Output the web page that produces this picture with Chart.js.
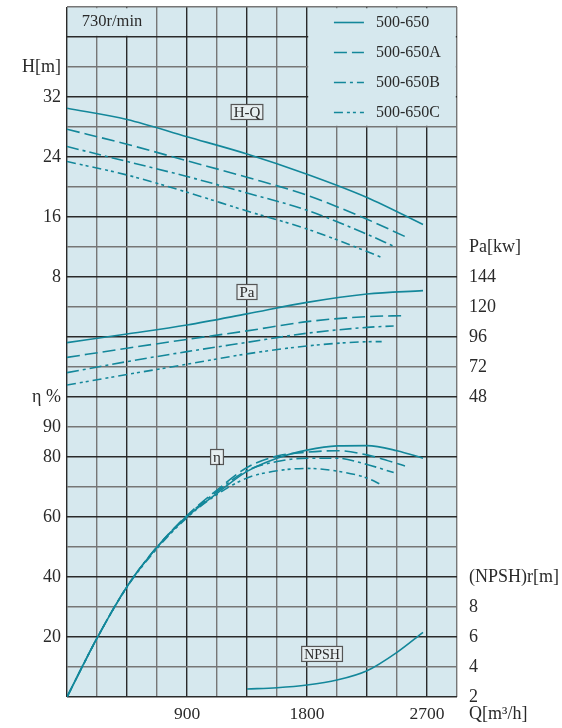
<!DOCTYPE html>
<html><head><meta charset="utf-8">
<script src="https://cdn.jsdelivr.net/npm/chart.js@4/dist/chart.umd.min.js"></script>
<style>html,body{margin:0;padding:0;background:#fff;}#wrap{width:562px;height:728px;}</style>
</head><body><div id="wrap"><canvas id="c" width="562" height="728"></canvas></div>
<script>
// ---------- data ----------
const seriesNames = ['500-650', '500-650A', '500-650B', '500-650C'];
const speedLabel = '730r/min';

// H-Q
const qHMain = [0, 450, 900, 1350, 1800, 2250, 2670];
const hMain  = [30.5, 29.0, 26.7, 24.4, 21.7, 18.6, 15.0];
const qHA    = [0, 450, 900, 1350, 1800, 2250, 2535];
const hA     = [27.7, 25.7, 23.5, 21.3, 18.9, 15.7, 13.4];
const qHB    = [0, 450, 900, 1350, 1800, 2250, 2450];
const hB     = [25.4, 23.4, 21.4, 19.2, 16.9, 13.7, 12.1];
const qHC    = [0, 450, 900, 1350, 1800, 2250, 2360];
const hC     = [23.4, 21.6, 19.3, 16.8, 14.4, 11.4, 10.6];

// Pa-Q (kW)
const paMain = [91.5, 98.4, 105.6, 114.5, 123.7, 130.4, 133.1];
const paA    = [79.7, 87.0, 94.1, 100.9, 108.3, 112.3, 113.1];
const paB    = [67.5, 76.3, 84.3, 91.7, 99.0, 103.7, 104.8];
const paC    = [57.6, 66.0, 74.2, 82.5, 88.8, 92.2, 92.3];

// efficiency (%)
const qEffMain = [0, 225, 450, 675, 900, 1125, 1350, 1575, 1800, 2025, 2250, 2475, 2670];
const effMain  = [0, 19.6, 36.8, 49.9, 60.1, 67.9, 75.2, 79.6, 82.3, 83.7, 83.8, 82.1, 79.6];
const qEffA    = [0, 225, 450, 675, 900, 1125, 1350, 1575, 1800, 2025, 2250, 2535];
const effA     = [0, 19.6, 36.8, 50.0, 60.5, 69.0, 76.5, 80.3, 81.6, 82.1, 80.7, 77.0];
const qEffB    = [0, 225, 450, 675, 900, 1125, 1350, 1575, 1800, 2025, 2250, 2450];
const effB     = [0, 19.6, 36.8, 50.0, 60.3, 68.5, 75.5, 78.5, 79.6, 79.6, 77.5, 74.8];
const qEffC    = [0, 225, 450, 675, 900, 1125, 1350, 1575, 1800, 2025, 2250, 2360];
const effC     = [0, 19.6, 36.6, 49.5, 59.8, 67.5, 73.0, 75.4, 76.2, 75.3, 73.0, 70.7];

// NPSHr (m)
const qNpsh = [1350, 1575, 1800, 2025, 2250, 2475, 2670];
const npsh  = [2.53, 2.62, 2.80, 3.13, 3.75, 4.98, 6.31];

// tick labels
const xTicks = [900, 1800, 2700];
const xTitle = 'Q[m³/h]';
const hTicks = [8, 16, 24, 32];      const hTitle = 'H[m]';
const effTicks = [20, 40, 60, 80, 90]; const effTitle = 'η %';
const paTicks = [48, 72, 96, 120, 144]; const paTitle = 'Pa[kw]';
const npshTicks = [2, 4, 6, 8];      const npshTitle = '(NPSH)r[m]';

// ---------- axes layout (grid rows) ----------
const ROWS = 23, Q_MAX = 2925, Q_STEP = 225;
const hRange = [-48, 44], paRange = [-192, 360], effRange = [0, 230], npshRange = [2, 48];

const rowOf = (v, r) => Math.round((v - r[0]) / (r[1] - r[0]) * ROWS);
const leftLabels = {}, rightLabels = {};
hTicks.forEach(v => leftLabels[rowOf(v, hRange)] = String(v));
leftLabels[rowOf(Math.max(...hTicks), hRange) + 1] = hTitle;
effTicks.forEach(v => leftLabels[rowOf(v, effRange)] = String(v));
leftLabels[rowOf(Math.max(...effTicks), effRange) + 1] = effTitle;
paTicks.forEach(v => rightLabels[rowOf(v, paRange)] = String(v));
rightLabels[rowOf(Math.max(...paTicks), paRange) + 1] = paTitle;
npshTicks.forEach(v => rightLabels[rowOf(v, npshRange)] = String(v));
rightLabels[rowOf(Math.max(...npshTicks), npshRange) + 1] = npshTitle;

// ---------- styles ----------
const TEAL = '#13879a';
const BG = '#d6e8ee';
const TXT = '#2a2a2a';
const SERIF = "'Liberation Serif','Times New Roman',serif";
const FONT = { family: SERIF, size: 18 };
const dashes = [[], [13, 5], [12, 4, 3, 4], [9, 4, 3, 3, 3, 4]];
const gridColor = ctx => (ctx.index % 2 === 0) ? '#2a2a2a' : '#767676';

const pts = (q, v) => q.map((x, i) => ({ x, y: v[i] }));
function ds(label, q, v, axis, k) {
  return { label, data: pts(q, v), yAxisID: axis, borderColor: TEAL, borderWidth: 1.6,
    borderDash: dashes[k], pointRadius: 0, fill: false, cubicInterpolationMode: 'monotone' };
}

const datasets = [
  ds(seriesNames[0], qHMain, hMain, 'yH', 0),
  ds(seriesNames[1], qHA, hA, 'yH', 1),
  ds(seriesNames[2], qHB, hB, 'yH', 2),
  ds(seriesNames[3], qHC, hC, 'yH', 3),
  ds(seriesNames[0] + ' Pa', qHMain, paMain, 'yPa', 0),
  ds(seriesNames[1] + ' Pa', qHA, paA, 'yPa', 1),
  ds(seriesNames[2] + ' Pa', qHB, paB, 'yPa', 2),
  ds(seriesNames[3] + ' Pa', qHC, paC, 'yPa', 3),
  ds(seriesNames[0] + ' η', qEffMain, effMain, 'yEff', 0),
  ds(seriesNames[1] + ' η', qEffA, effA, 'yEff', 1),
  ds(seriesNames[2] + ' η', qEffB, effB, 'yEff', 2),
  ds(seriesNames[3] + ' η', qEffC, effC, 'yEff', 3),
  ds('NPSH', qNpsh, npsh, 'yN', 0)
];

const curveLabels = [
  { text: 'H-Q', axis: 'yH', q: 1350, v: 30, size: 15 },
  { text: 'Pa', axis: 'yPa', q: 1350, v: 132, size: 15 },
  { text: 'η', axis: 'yEff', q: 1125, v: 80, size: 15 },
  { text: 'NPSH', axis: 'yN', q: 1913, v: 4.87, size: 14 }
];

const decor = {
  id: 'decor',
  beforeDraw(chart) {
    const { ctx, chartArea: a } = chart;
    ctx.save(); ctx.fillStyle = BG;
    ctx.fillRect(a.left, a.top, a.right - a.left, a.bottom - a.top);
    ctx.restore();
  },
  beforeDatasetsDraw(chart) {
    const { ctx } = chart, x = chart.scales.x, y = chart.scales.yL;
    const cell = (q0, r0, q1, r1) => {
      const x0 = x.getPixelForValue(q0) + 1.2, x1 = x.getPixelForValue(q1) - 1.2;
      const y0 = y.getPixelForValue(r1) + 1.2, y1 = y.getPixelForValue(r0) - 1.2;
      ctx.fillStyle = BG; ctx.fillRect(x0, y0, x1 - x0, y1 - y0);
    };
    ctx.save();
    cell(1800, 19, Q_MAX, ROWS);   // legend cell
    cell(0, 22, 675, ROWS);        // speed cell
    ctx.restore();
  },
  afterDatasetsDraw(chart) {
    const { ctx } = chart, x = chart.scales.x, y = chart.scales.yL;
    ctx.save();
    ctx.textBaseline = 'middle';
    ctx.font = `16.5px ${SERIF}`; ctx.fillStyle = TXT; ctx.textAlign = 'center';
    ctx.fillText(speedLabel, (x.getPixelForValue(0) + x.getPixelForValue(675)) / 2, y.getPixelForValue(22.5));
    ctx.textAlign = 'left';
    seriesNames.forEach((n, i) => {
      const yy = Math.round(y.getPixelForValue(22.5 - i)) + 0.5;
      const lx = x.getPixelForValue(2002), rx = x.getPixelForValue(2227);
      ctx.strokeStyle = TEAL; ctx.lineWidth = 1.6; ctx.setLineDash(dashes[i]);
      ctx.beginPath(); ctx.moveTo(lx, yy); ctx.lineTo(rx, yy); ctx.stroke();
      ctx.setLineDash([]);
      ctx.fillStyle = TXT; ctx.font = `16px ${SERIF}`;
      ctx.fillText(n, x.getPixelForValue(2317), yy);
    });
    curveLabels.forEach(l => {
      const cx = x.getPixelForValue(l.q), cy = chart.scales[l.axis].getPixelForValue(l.v);
      ctx.font = `${l.size}px ${SERIF}`;
      const w = ctx.measureText(l.text).width + 5, h = 15;
      ctx.fillStyle = '#e6eef0'; ctx.fillRect(cx - w / 2, cy - h / 2, w, h);
      ctx.strokeStyle = '#555'; ctx.lineWidth = 1.2; ctx.strokeRect(cx - w / 2, cy - h / 2, w, h);
      ctx.fillStyle = TXT; ctx.textAlign = 'center';
      ctx.fillText(l.text, cx, cy + 1);
    });
    ctx.font = `18px ${SERIF}`; ctx.textAlign = 'left'; ctx.fillStyle = TXT;
    ctx.fillText(xTitle, chart.chartArea.right + 12, chart.chartArea.bottom + 17);
    ctx.restore();
  }
};

const noPadY = s => { s.paddingTop = 0; s.paddingBottom = 0; };
new Chart(document.getElementById('c'), {
  type: 'line',
  data: { datasets },
  options: {
    responsive: false, animation: false, devicePixelRatio: 1,
    layout: { padding: { top: 7, left: 0, right: 0, bottom: 0 } },
    plugins: { legend: { display: false }, tooltip: { enabled: false } },
    scales: {
      x: { type: 'linear', position: 'bottom', min: 0, max: Q_MAX,
        ticks: { stepSize: Q_STEP, autoSkip: false, maxRotation: 0, padding: 7, font: { family: SERIF, size: 17.5 }, color: TXT,
          callback: v => xTicks.includes(Math.round(v)) ? String(Math.round(v)) : '' },
        grid: { color: gridColor, lineWidth: 1.4, drawTicks: false },
        border: { display: false },
        afterFit: s => { s.height = 31; s.paddingLeft = 0; s.paddingRight = 0; } },
      yL: { type: 'linear', position: 'left', min: 0, max: ROWS,
        ticks: { stepSize: 1, autoSkip: false, padding: 6, font: FONT, color: TXT,
          callback: v => leftLabels[Math.round(v)] || '' },
        grid: { color: gridColor, lineWidth: 1.4, drawTicks: false },
        border: { display: false },
        afterFit: s => { s.width = 67; noPadY(s); } },
      yR: { type: 'linear', position: 'right', min: 0, max: ROWS,
        ticks: { stepSize: 1, autoSkip: false, padding: 12, font: FONT, color: TXT,
          callback: v => rightLabels[Math.round(v)] || '' },
        grid: { display: false, drawTicks: false },
        border: { display: false },
        afterFit: s => { s.width = 105; noPadY(s); } },
      yH:   { display: false, min: hRange[0], max: hRange[1] },
      yPa:  { display: false, min: paRange[0], max: paRange[1] },
      yEff: { display: false, min: effRange[0], max: effRange[1] },
      yN:   { display: false, min: npshRange[0], max: npshRange[1] }
    }
  },
  plugins: [decor]
});
</script>
</body></html>
